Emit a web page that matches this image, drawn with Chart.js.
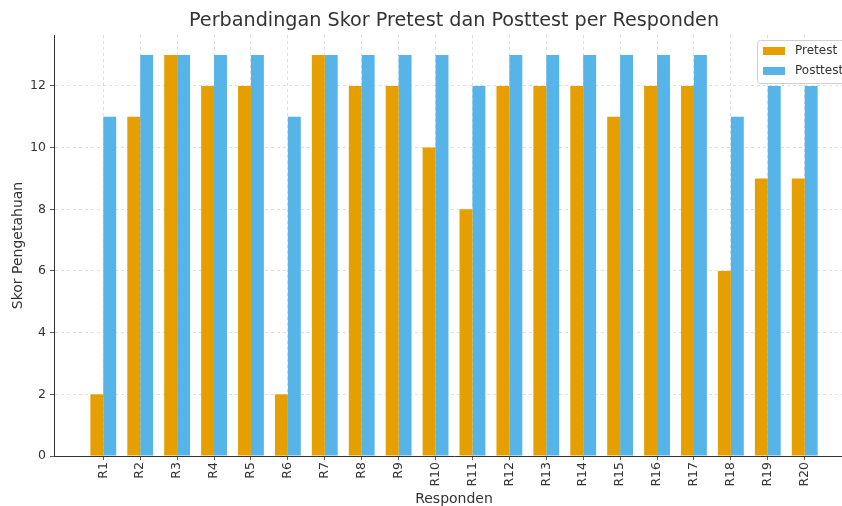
<!DOCTYPE html>
<html>
<head>
<meta charset="utf-8">
<script src="https://cdn.jsdelivr.net/npm/chart.js@4.4.0/dist/chart.umd.min.js"></script>
<style>
  body { margin: 0; overflow: hidden; background: #fff; }
  #wrap { width: 858px; height: 506px; }
</style>
</head>
<body>
<div id="wrap"><canvas id="chart" width="858" height="506"></canvas></div>
<script>
var respondents = ["R1", "R2", "R3", "R4", "R5", "R6", "R7", "R8", "R9", "R10",
  "R11", "R12", "R13", "R14", "R15", "R16", "R17", "R18", "R19", "R20"];
var pretest = [2, 11, 13, 12, 12, 2, 13, 12, 12, 10, 8, 12, 12, 12, 11, 12, 12, 6, 9, 9];
var posttest = [11, 13, 13, 13, 13, 11, 13, 13, 13, 13, 12, 13, 13, 13, 13, 13, 13, 11, 12, 12];
var yTicks = [0, 2, 4, 6, 8, 10, 12];

var FONT = "'DejaVu Sans', sans-serif";
var TEXT = "#333333";

function points(values) {
  return values.map(function (v, i) { return { x: i, y: v }; });
}

// title centred over the plot area, like matplotlib does
var titlePlugin = {
  id: "plotTitle",
  afterDraw: function (chart) {
    var ctx = chart.ctx, a = chart.chartArea;
    ctx.save();
    ctx.font = "19.2px " + FONT;
    ctx.fillStyle = TEXT;
    ctx.textAlign = "center";
    ctx.textBaseline = "middle";
    ctx.fillText("Perbandingan Skor Pretest dan Posttest per Responden", (a.left + a.right) / 2, 21);
    ctx.restore();
  }
};

// legend box in the upper right corner of the axes
var legendPlugin = {
  id: "boxLegend",
  afterDraw: function (chart) {
    var ctx = chart.ctx;
    var x = 757, y = 40, w = 100, h = 43;
    ctx.save();
    ctx.fillStyle = "rgba(255,255,255,0.85)";
    ctx.strokeStyle = "#d0d0d0";
    ctx.lineWidth = 1;
    ctx.beginPath();
    ctx.roundRect(x + 0.5, y + 0.5, w, h, 3);
    ctx.fill();
    ctx.stroke();
    ctx.font = "12px " + FONT;
    ctx.textBaseline = "middle";
    chart.data.datasets.forEach(function (ds, i) {
      var cy = y + 11 + i * 20;
      ctx.fillStyle = ds.backgroundColor;
      ctx.fillRect(x + 6, cy - 4, 22, 8);
      ctx.fillStyle = TEXT;
      ctx.fillText(ds.label, x + 38, cy);
    });
    ctx.restore();
  }
};

var gridOpts = {
  color: "#d9d9d9",
  lineWidth: 0.8,
  offset: false,
  tickLength: 4,
  tickColor: "#333333",
  tickBorderDash: [],
  drawTicks: true
};

var ctx = document.getElementById("chart").getContext("2d");
var myChart = new Chart(ctx, {
  type: "bar",
  data: {
    datasets: [
      {
        label: "Pretest",
        data: points(pretest),
        backgroundColor: "#E69F00",
        borderWidth: 0,
        categoryPercentage: 0.7,
        barPercentage: 1.0
      },
      {
        label: "Posttest",
        data: points(posttest),
        backgroundColor: "#56B4E9",
        borderWidth: 0,
        categoryPercentage: 0.7,
        barPercentage: 1.0
      }
    ]
  },
  plugins: [titlePlugin, legendPlugin],
  options: {
    responsive: false,
    animation: false,
    devicePixelRatio: 1,
    layout: { padding: { top: 35, right: 4, left: 0, bottom: 0 } },
    plugins: {
      legend: { display: false },
      title: { display: false },
      tooltip: { enabled: false }
    },
    scales: {
      x: {
        type: "linear",
        offset: false,
        min: -1.335,
        max: 20.335,
        afterFit: function (s) { s.height = 50; },
        afterBuildTicks: function (s) {
          s.ticks = respondents.map(function (r, i) { return { value: i }; });
        },
        ticks: {
          autoSkip: false,
          maxRotation: 90,
          minRotation: 90,
          padding: 2,
          color: TEXT,
          font: { family: FONT, size: 12.5 },
          callback: function (v) { return respondents[v]; }
        },
        grid: gridOpts,
        border: { display: true, color: "#333333", width: 1, dash: [3, 3] },
        title: {
          display: true,
          text: "Responden",
          color: TEXT,
          font: { family: FONT, size: 14 },
          padding: { top: 0, bottom: -2 }
        }
      },
      y: {
        min: 0,
        max: 13.65,
        afterFit: function (s) { s.width = 54; },
        afterBuildTicks: function (s) {
          s.ticks = yTicks.map(function (v) { return { value: v }; });
        },
        ticks: {
          padding: 4,
          color: TEXT,
          font: { family: FONT, size: 12.5 }
        },
        grid: gridOpts,
        border: { display: true, color: "#333333", width: 1, dash: [3, 3] },
        title: {
          display: true,
          text: "Skor Pengetahuan",
          color: TEXT,
          font: { family: FONT, size: 14 },
          padding: { top: 10, bottom: 0 }
        }
      }
    }
  }
});
</script>
</body>
</html>
